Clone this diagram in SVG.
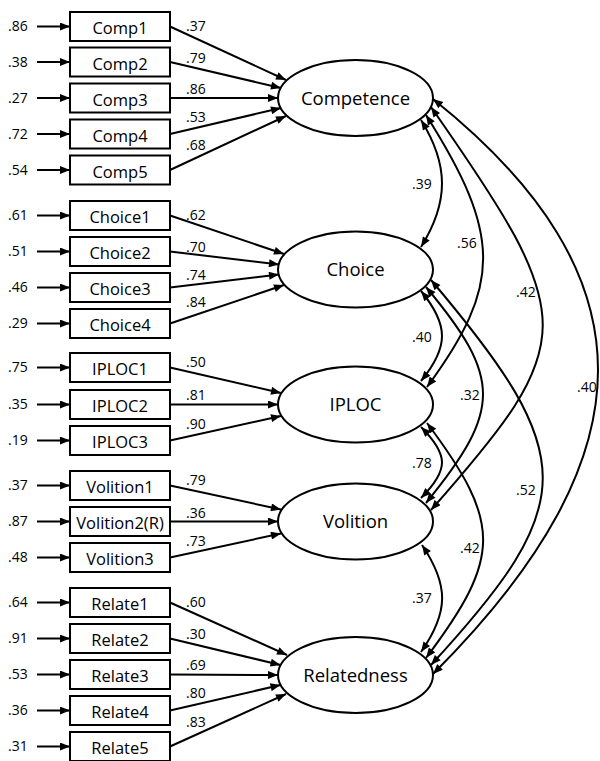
<svg xmlns="http://www.w3.org/2000/svg" width="600" height="761" viewBox="0 0 600 761">
<defs>
<marker id="ah" viewBox="0 0 10 8" refX="10" refY="4" markerWidth="11" markerHeight="8" markerUnits="userSpaceOnUse" orient="auto-start-reverse"><path d="M0,0 L10,4 L0,8 z" fill="#000"/></marker>
<style>
.box{fill:#fff;stroke:#000;stroke-width:2}
.ell{fill:#fff;stroke:#000;stroke-width:2}
.bt{font-family:"Open Sans","Liberation Sans",sans-serif;font-size:16.5px;text-anchor:middle;fill:#000}
.et{font-family:"Open Sans","Liberation Sans",sans-serif;font-size:18.5px;text-anchor:middle;fill:#000}
.n{font-family:"Open Sans","Liberation Sans",sans-serif;font-size:14px;fill:#000}
.a{fill:none;stroke:#000;stroke-width:2;marker-end:url(#ah)}
.d{fill:none;stroke:#000;stroke-width:2;marker-start:url(#ah);marker-end:url(#ah)}
</style>
</defs>
<rect width="600" height="761" fill="#fff"/>

<g id="connectors">
<path class="a" d="M37,26.5H70"/><path class="a" d="M37,62H70"/><path class="a" d="M37,98H70"/><path class="a" d="M37,134H70"/><path class="a" d="M37,170H70"/>
<path class="a" d="M37,215.5H70"/><path class="a" d="M37,251.5H70"/><path class="a" d="M37,287.5H70"/><path class="a" d="M37,323.5H70"/>
<path class="a" d="M37,367.5H70"/><path class="a" d="M37,404.5H70"/><path class="a" d="M37,440.5H70"/>
<path class="a" d="M37,485.5H70"/><path class="a" d="M37,521.5H70"/><path class="a" d="M37,557.5H70"/>
<path class="a" d="M37,602.5H70"/><path class="a" d="M37,638.5H70"/><path class="a" d="M37,674.5H70"/><path class="a" d="M37,710.5H70"/><path class="a" d="M37,746.5H70"/>
<path class="a" d="M170,26.5L286,80"/><path class="a" d="M170,62L281,88"/><path class="a" d="M170,98L278,98"/><path class="a" d="M170,134L281,108"/><path class="a" d="M170,170L286,116"/>
<path class="a" d="M170,215.5L284,254"/><path class="a" d="M170,251.5L279,264.5"/><path class="a" d="M170,287.5L279,274.5"/><path class="a" d="M170,323.5L284,285"/>
<path class="a" d="M170,367.5L281,393"/><path class="a" d="M170,404.5L278,404.5"/><path class="a" d="M170,440.5L281,416"/>
<path class="a" d="M170,485.5L281,509.5"/><path class="a" d="M170,521.5L278,521.5"/><path class="a" d="M170,557.5L281,533.5"/>
<path class="a" d="M170,602.5L287,655"/><path class="a" d="M170,638.5L280.5,665"/><path class="a" d="M170,674.5L278,675"/><path class="a" d="M170,710.5L280.5,685"/><path class="a" d="M170,746.5L286,694"/>
<path class="d" d="M421,120C449,165 449,202 421,247"/>
<path class="d" d="M426,115C502,235 502,285 427,387"/>
<path class="d" d="M431,107C580,320 580,341 431,510"/>
<path class="d" d="M433,99C653,275 653,454 433,674"/>
<path class="d" d="M421,291C449,325 449,347 421,381"/>
<path class="d" d="M426,287C502,378 502,410 426,503"/>
<path class="d" d="M431,280C580,456 580,503 431,665"/>
<path class="d" d="M421,427C449,455 449,470 421,498"/>
<path class="d" d="M427,423C502,523 502,557 426,658"/>
<path class="d" d="M422,545C449,585 449,612 421,652"/>
</g>

<g id="labels">
<text class="n" x="8" y="31">.86</text><text class="n" x="8" y="66.5">.38</text><text class="n" x="8" y="102.5">.27</text><text class="n" x="8" y="138.5">.72</text><text class="n" x="8" y="174.5">.54</text>
<text class="n" x="8" y="220">.61</text><text class="n" x="8" y="256">.51</text><text class="n" x="8" y="292">.46</text><text class="n" x="8" y="328">.29</text>
<text class="n" x="8" y="372">.75</text><text class="n" x="8" y="409">.35</text><text class="n" x="8" y="445">.19</text>
<text class="n" x="8" y="490">.37</text><text class="n" x="8" y="526">.87</text><text class="n" x="8" y="562">.48</text>
<text class="n" x="8" y="607">.64</text><text class="n" x="8" y="643">.91</text><text class="n" x="8" y="679">.53</text><text class="n" x="8" y="715">.36</text><text class="n" x="8" y="751">.31</text>

<text class="n" x="186" y="31">.37</text><text class="n" x="186" y="63">.79</text><text class="n" x="186" y="94">.86</text><text class="n" x="186" y="122">.53</text><text class="n" x="186" y="150">.68</text>
<text class="n" x="186" y="220">.62</text><text class="n" x="186" y="252">.70</text><text class="n" x="186" y="280">.74</text><text class="n" x="186" y="307">.84</text>
<text class="n" x="186" y="367">.50</text><text class="n" x="186" y="400">.81</text><text class="n" x="186" y="429">.90</text>
<text class="n" x="186" y="485">.79</text><text class="n" x="186" y="518">.36</text><text class="n" x="186" y="546">.73</text>
<text class="n" x="186" y="607">.60</text><text class="n" x="186" y="639">.30</text><text class="n" x="186" y="670">.69</text><text class="n" x="186" y="698">.80</text><text class="n" x="186" y="727">.83</text>

<text class="n" x="412" y="189">.39</text>
<text class="n" x="457" y="248">.56</text>
<text class="n" x="516" y="297">.42</text>
<text class="n" x="577" y="392">.40</text>
<text class="n" x="412" y="342">.40</text>
<text class="n" x="460" y="400">.32</text>
<text class="n" x="412" y="468">.78</text>
<text class="n" x="516" y="495">.52</text>
<text class="n" x="460" y="553">.42</text>
<text class="n" x="412" y="603">.37</text>
</g>

<g id="Comp1"><rect class="box" x="70" y="12" width="100" height="29"/><text class="bt" x="120" y="34">Comp1</text></g>
<g id="Comp2"><rect class="box" x="70" y="47.5" width="100" height="29"/><text class="bt" x="120" y="69.5">Comp2</text></g>
<g id="Comp3"><rect class="box" x="70" y="83.5" width="100" height="29"/><text class="bt" x="120" y="105.5">Comp3</text></g>
<g id="Comp4"><rect class="box" x="70" y="119.5" width="100" height="29"/><text class="bt" x="120" y="141.5">Comp4</text></g>
<g id="Comp5"><rect class="box" x="70" y="155.5" width="100" height="29"/><text class="bt" x="120" y="177.5">Comp5</text></g>

<g id="Choice1"><rect class="box" x="70" y="201" width="100" height="29"/><text class="bt" x="120" y="223">Choice1</text></g>
<g id="Choice2"><rect class="box" x="70" y="237" width="100" height="29"/><text class="bt" x="120" y="259">Choice2</text></g>
<g id="Choice3"><rect class="box" x="70" y="273" width="100" height="29"/><text class="bt" x="120" y="295">Choice3</text></g>
<g id="Choice4"><rect class="box" x="70" y="309" width="100" height="29"/><text class="bt" x="120" y="331">Choice4</text></g>

<g id="IPLOC1"><rect class="box" x="70" y="353" width="100" height="29"/><text class="bt" x="120" y="375">IPLOC1</text></g>
<g id="IPLOC2"><rect class="box" x="70" y="390" width="100" height="29"/><text class="bt" x="120" y="412">IPLOC2</text></g>
<g id="IPLOC3"><rect class="box" x="70" y="426" width="100" height="29"/><text class="bt" x="120" y="448">IPLOC3</text></g>

<g id="Volition1"><rect class="box" x="70" y="471" width="100" height="29"/><text class="bt" x="120" y="493">Volition1</text></g>
<g id="Volition2"><rect class="box" x="70" y="507" width="100" height="29"/><text class="bt" x="120" y="529">Volition2(R)</text></g>
<g id="Volition3"><rect class="box" x="70" y="543" width="100" height="29"/><text class="bt" x="120" y="565">Volition3</text></g>

<g id="Relate1"><rect class="box" x="70" y="588" width="100" height="29"/><text class="bt" x="120" y="610">Relate1</text></g>
<g id="Relate2"><rect class="box" x="70" y="624" width="100" height="29"/><text class="bt" x="120" y="646">Relate2</text></g>
<g id="Relate3"><rect class="box" x="70" y="660" width="100" height="29"/><text class="bt" x="120" y="682">Relate3</text></g>
<g id="Relate4"><rect class="box" x="70" y="696" width="100" height="29"/><text class="bt" x="120" y="718">Relate4</text></g>
<g id="Relate5"><rect class="box" x="70" y="732" width="100" height="29"/><text class="bt" x="120" y="754">Relate5</text></g>

<g id="Competence"><ellipse class="ell" cx="355.5" cy="98" rx="77.5" ry="38"/><text class="et" x="355.5" y="104.5">Competence</text></g>
<g id="Choice"><ellipse class="ell" cx="355.5" cy="269.5" rx="77.5" ry="38"/><text class="et" x="355.5" y="276">Choice</text></g>
<g id="IPLOC"><ellipse class="ell" cx="355.5" cy="404.5" rx="77.5" ry="38"/><text class="et" x="355.5" y="411">IPLOC</text></g>
<g id="Volition"><ellipse class="ell" cx="355.5" cy="521.5" rx="77.5" ry="38"/><text class="et" x="355.5" y="528">Volition</text></g>
<g id="Relatedness"><ellipse class="ell" cx="355.5" cy="675" rx="77.5" ry="38"/><text class="et" x="355.5" y="681.5">Relatedness</text></g>
</svg>
